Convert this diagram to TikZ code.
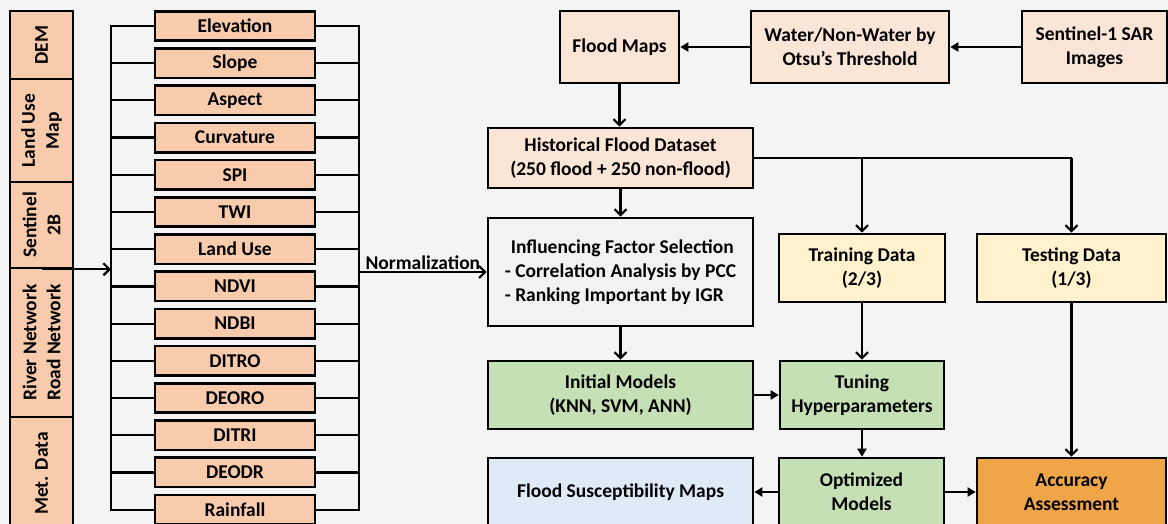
\documentclass[tikz,border=0pt]{standalone}
\usepackage{fontspec}
\setmainfont{Carlito}
\usetikzlibrary{arrows.meta}
\definecolor{bgc}{HTML}{F4F4F4}
\definecolor{peach}{HTML}{F8CBAD}
\definecolor{peachl}{HTML}{FBE5D6}
\definecolor{grayb}{HTML}{F2F2F2}
\definecolor{yel}{HTML}{FFF2CC}
\definecolor{grn}{HTML}{C5E0B4}
\definecolor{blu}{HTML}{DEEBF7}
\definecolor{org}{HTML}{EFA548}
\begin{document}
\begin{tikzpicture}[x=1pt,y=-1pt,
  box/.style={draw=black, line width=2.6pt, align=center, inner sep=0pt,
    font=\fontsize{19.5}{24}\selectfont\bfseries},
  fbox/.style={box, fill=peach, minimum width=160pt, minimum height=29.5pt},
  lbox/.style={box, fill=peach, rotate=90, minimum height=63pt},
  conn/.style={line width=2.2pt},
  chev/.style={conn, -{Straight Barb[length=6pt,width=12pt]}},
  tri/.style={conn, -{Triangle[length=8pt,width=9pt]}}]
\useasboundingbox (0,0) rectangle (1168,524);
\fill[bgc] (0,0) rectangle (1168,524);

% left column sources
\node[lbox, minimum width=68pt]  (dem) at (41.5,45)    {DEM};
\node[lbox, minimum width=103pt] (lum) at (41.5,130.5) {Land Use\\Map};
\node[lbox, minimum width=86pt]  (sen) at (41.5,225)   {Sentinel\\2B};
\node[lbox, minimum width=149pt] (riv) at (41.5,342.5) {River Network\\Road Network};
\node[lbox, minimum width=113pt] (met) at (41.5,473.5) {Met. Data};

% factor boxes
\foreach \i/\t in {1/Elevation,2/Slope,3/Aspect,4/Curvature,5/SPI,6/TWI,7/Land Use,
                   8/NDVI,9/NDBI,10/DITRO,11/DEORO,12/DITRI,13/DEODR,14/Rainfall}
  \node[fbox] (f\i) at (235,{26+37.2*(\i-1)}) {\t};

\coordinate (lbus) at (111,0);
\coordinate (rbus) at (359,0);
\draw[conn] (f1.west) -- (f1.west -| lbus) -- (f14.west -| lbus) -- (f14.west);
\draw[conn] (f1.east) -- (f1.east -| rbus) -- (f14.east -| rbus) -- (f14.east);
\foreach \i in {2,...,13}{
  \draw[conn] (f\i.west) -- (f\i.west -| lbus);
  \draw[conn] (f\i.east) -- (f\i.east -| rbus);
}
\draw[chev] (sen.west) -- (sen.west -| lbus);

% right flow
\node[box, fill=peachl, minimum width=119pt, minimum height=72pt] (fm)  at (619.5,47) {Flood Maps};
\node[box, fill=peachl, minimum width=198pt, minimum height=72pt] (wat) at (850,47) {Water/Non-Water by\\Otsu’s Threshold};
\node[box, fill=peachl, minimum width=145pt, minimum height=72pt] (s1)  at (1094.5,47) {Sentinel-1 SAR\\Images};
\node[box, fill=peachl, minimum width=265pt, minimum height=60pt] (hist) at (620.5,158) {Historical Flood Dataset\\(250 flood + 250 non-flood)};
\node[box, fill=grayb, minimum width=265pt, minimum height=108pt, align=left] (infl) at (620.5,272)
  {\hspace*{6pt}Influencing Factor Selection\\- Correlation Analysis by PCC\\- Ranking Important by IGR};
\node[box, fill=yel, minimum width=166pt, minimum height=68pt] (tr) at (862,268) {Training Data\\(2/3)};
\node[box, fill=yel, minimum width=189pt, minimum height=68pt] (te) at (1071.5,268) {Testing Data\\(1/3)};
\node[box, fill=grn, minimum width=265pt, minimum height=68pt] (init) at (620.5,395) {Initial Models\\(KNN, SVM, ANN)};
\node[box, fill=grn, minimum width=164pt, minimum height=68pt] (tun) at (862,395) {Tuning\\Hyperparameters};
\node[box, fill=blu, minimum width=265pt, minimum height=68pt] (fsm) at (620.5,492) {Flood Susceptibility Maps};
\node[box, fill=grn, minimum width=165pt, minimum height=68pt] (opt) at (861.5,492) {Optimized\\Models};
\node[box, fill=org, minimum width=189pt, minimum height=68pt] (acc) at (1071.5,492) {Accuracy\\Assessment};

\draw[chev] (infl.west -| rbus) -- node[above=1pt, font=\fontsize{19.5}{24}\selectfont\bfseries, inner sep=0pt] {Normalization} (infl.west);

\draw[tri] (s1.west) -- (wat.east);
\draw[tri] (wat.west) -- (fm.east);
\draw[chev] (fm.south) -- (fm.south |- hist.north);
\draw[conn] (hist.east) -- (hist.east -| te.north);
\draw[chev] (hist.east -| te.north) -- (te.north);
\draw[chev] (hist.east -| tr.north) -- (tr.north);
\draw[chev] (hist.south) -- (infl.north);
\draw[chev] (infl.south) -- (init.north);
\draw[chev] (tr.south) -- (tun.north);
\draw[tri] (init.east) -- (tun.west);
\draw[tri] (tun.south) -- (tun.south |- opt.north);
\draw[chev] (te.south) -- (acc.north);
\draw[tri] (opt.west) -- (fsm.east);
\draw[tri] (opt.east) -- (acc.west);
\end{tikzpicture}
\end{document}
